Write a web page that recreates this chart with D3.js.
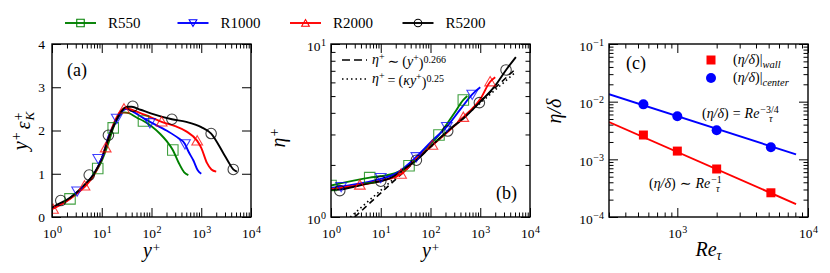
<!DOCTYPE html>
<html>
<head>
<meta charset="utf-8">
<script src="https://cdn.jsdelivr.net/npm/d3@7"></script>
<style>
  body { margin: 0; background: #fff; }
  svg, svg text { font-family: "Liberation Serif", "Times New Roman", "DejaVu Serif", serif; }
  .frame { fill: none; stroke: #000; stroke-width: 1.4; }
  .tick line { stroke: #000; stroke-width: 1; }
  .tick text { font-size: 13.5px; fill: #000; font-family: "Liberation Serif", "DejaVu Serif", serif; }
</style>
</head>
<body>
<div id="chart"></div>
<script>
// ---- data ----
var runs = ["R550", "R1000", "R2000", "R5200"];
var runColors = ["#008000", "#0000ff", "#ff0000", "#000000"];
var runMarkers = ["square", "triDown", "triUp", "circle"];

// (a) y+ eps+_K against y+
var epsR550 = [[1,0.2],[2,0.38],[3,0.53],[5,0.77],[8.3,1.12],[10,1.3],[14,1.75],[17,2.06],[22,2.32],[28,2.42],[35,2.4],[50,2.3],[69,2.22],[100,2.1],[150,1.92],[200,1.76],[268,1.55],[350,1.26],[450,1.04],[550,0.97]];
var epsR1000 = [[1,0.2],[2,0.38],[3,0.55],[5,0.78],[7,1.0],[10,1.35],[14,1.9],[20,2.25],[26,2.45],[32,2.5],[45,2.42],[70,2.28],[93,2.2],[200,2.0],[350,1.82],[470,1.69],[550,1.52],[700,1.3],[850,1.08],[1000,1.0]];
var epsR2000 = [[1,0.18],[2,0.37],[3,0.52],[5,0.75],[7,0.97],[10,1.35],[14,1.85],[18,2.2],[24,2.45],[30,2.52],[40,2.48],[60,2.4],[100,2.3],[160,2.2],[300,2.1],[500,1.98],[830,1.76],[1000,1.6],[1300,1.25],[1600,1.1],[2000,1.05]];
var epsR5200 = [[1,0.22],[1.5,0.33],[2,0.4],[3,0.55],[5,0.8],[7,1.0],[10,1.35],[14,1.85],[18,2.15],[24,2.42],[32,2.55],[40,2.55],[60,2.48],[100,2.39],[257,2.26],[500,2.2],[1000,2.08],[1580,1.93],[2800,1.47],[3500,1.28],[4400,1.1],[5200,1.05]];
var epsMarkR550 = [[2.3,0.42],[8.3,1.12],[17,2.06],[69,2.22],[268,1.55]];
var epsMarkR1000 = [[3.2,0.6],[8.5,1.35],[20,2.28],[93,2.18],[470,1.69]];
var epsMarkR2000 = [[1.05,0.18],[4.5,0.72],[12,1.6],[28,2.5],[160,2.2],[830,1.76]];
var epsMarkR5200 = [[1.5,0.38],[5.6,0.97],[13.6,1.89],[42,2.56],[257,2.26],[1580,1.93],[4400,1.1]];

// (b) eta+ against y+
var etaR550 = [[1,1.52],[6,1.69],[10,1.72],[20,1.8],[37,1.98],[70,2.4],[148,2.98],[300,3.98],[457,4.75],[550,5.0]];
var etaR1000 = [[1,1.47],[1.6,1.5],[10,1.66],[20,1.78],[52,2.23],[100,2.7],[213,3.33],[400,4.2],[690,5.12],[1000,5.62]];
var etaR2000 = [[1,1.45],[3.8,1.53],[10,1.62],[25.6,1.77],[50,2.15],[109,2.6],[250,3.2],[457,3.77],[1000,4.8],[1580,6.05],[2000,6.42]];
var etaR5200 = [[1,1.43],[1.5,1.44],[3,1.5],[6,1.57],[10,1.61],[15,1.67],[20,1.75],[30,1.9],[52,2.13],[100,2.55],[222,3.14],[500,3.8],[960,4.58],[2000,5.75],[3300,7.08],[5200,8.4]];
var etaMarkR550 = [[1.0,1.52],[6,1.69],[37,1.98],[148,2.98],[457,4.75]];
var etaMarkR1000 = [[1.6,1.5],[10,1.69],[52,2.23],[213,3.33],[690,5.12]];
var etaMarkR2000 = [[3.8,1.53],[25.6,1.77],[109,2.6],[457,3.77],[1580,6.05]];
var etaMarkR5200 = [[1.5,1.42],[10,1.61],[52,2.13],[222,3.14],[960,4.58],[3300,7.08]];
var etaFitDashed = [[3.0,1.0],[5200,7.2]];
var etaFitDotted = [[2.44,1.0],[5200,6.9]];

// (c) eta/delta against Re_tau
var reTau = [550, 1000, 2000, 5200];
var etaWall = [0.00264, 0.00139, 0.00068, 0.000263];
var etaCenter = [0.00898, 0.0056, 0.0032, 0.00162];
var fitWall = [[300,0.00443],[8100,0.000168]];
var fitCenter = [[300,0.0135],[8100,0.00122]];

var allEps = [epsR550, epsR1000, epsR2000, epsR5200];
var allEpsMark = [epsMarkR550, epsMarkR1000, epsMarkR2000, epsMarkR5200];
var allEta = [etaR550, etaR1000, etaR2000, etaR5200];
var allEtaMark = [etaMarkR550, etaMarkR1000, etaMarkR2000, etaMarkR5200];

// ---- layout ----
var width = 830, height = 273;
var plotTop = 44, plotBottom = 217;

var svg = d3.select("#chart").append("svg")
    .attr("width", width)
    .attr("height", height)
    .attr("font-family", "Liberation Serif, DejaVu Serif, serif");

function markerPath(type, size) {
    if (type == "square") return d3.symbol().type(d3.symbolSquare).size(size * size)();
    if (type == "circle") return d3.symbol().type(d3.symbolCircle).size(Math.PI * size * size / 4)();
    return d3.symbol().type(d3.symbolTriangle).size(size * size * 0.45)();
}

function drawMarkers(g, pts, type, color, size, filled, x, y) {
    g.selectAll(null)
        .data(pts)
        .enter()
        .append("path")
        .attr("d", markerPath(type, size))
        .attr("transform", function(d) {
            var rot = type == "triDown" ? " rotate(180)" : "";
            var dy = type == "triDown" ? -1 : (type == "triUp" ? 1 : 0);
            return "translate(" + x(d[0]) + "," + (y(d[1]) + dy) + ")" + rot;
        })
        .style("fill", filled ? color : "none")
        .style("stroke", color)
        .style("stroke-width", filled ? 0 : 1.1)
        .style("stroke-opacity", 0.75);
}

// power-of-ten labels with superscript exponent
function powLabel(sel) {
    sel.each(function(d) {
        var t = d3.select(this);
        var e = Math.round(Math.log10(d));
        t.text(null);
        t.append("tspan").text("10");
        t.append("tspan").attr("dx", 0.5).attr("dy", "-0.5em").style("font-size", "10px").text(e < 0 ? "\u2212" + (-e) : e);
    });
}

function isDecade(v) {
    return Math.abs(Math.log10(v) - Math.round(Math.log10(v))) < 1e-9;
}

// log axis ticks, inside, on both sides
function logTicksX(g, x) {
    var all = x.ticks();
    var major = all.filter(isDecade);
    var minor = all.filter(function(v) { return !isDecade(v); });
    g.append("g").attr("transform", "translate(0," + plotBottom + ")")
        .call(d3.axisBottom(x).tickValues(minor).tickSize(-4.5).tickFormat(""))
        .call(function(a) { a.select(".domain").remove(); });
    g.append("g").attr("transform", "translate(0," + plotTop + ")")
        .call(d3.axisTop(x).tickValues(minor).tickSize(-4.5).tickFormat(""))
        .call(function(a) { a.select(".domain").remove(); });
    var ax = g.append("g").attr("transform", "translate(0," + plotBottom + ")")
        .call(d3.axisBottom(x).tickValues(major).tickSize(-9).tickPadding(8))
        .call(function(a) { a.select(".domain").remove(); });
    ax.selectAll(".tick text").attr("dy", "0.95em").call(powLabel);
    g.append("g").attr("transform", "translate(0," + plotTop + ")")
        .call(d3.axisTop(x).tickValues(major).tickSize(-9).tickFormat(""))
        .call(function(a) { a.select(".domain").remove(); });
}

function logTicksY(g, y, left, right) {
    var all = y.ticks();
    var major = all.filter(isDecade);
    var minor = all.filter(function(v) { return !isDecade(v); });
    g.append("g").attr("transform", "translate(" + left + ",0)")
        .call(d3.axisLeft(y).tickValues(minor).tickSize(-4.5).tickFormat(""))
        .call(function(a) { a.select(".domain").remove(); });
    g.append("g").attr("transform", "translate(" + right + ",0)")
        .call(d3.axisRight(y).tickValues(minor).tickSize(-4.5).tickFormat(""))
        .call(function(a) { a.select(".domain").remove(); });
    var ay = g.append("g").attr("transform", "translate(" + left + ",0)")
        .call(d3.axisLeft(y).tickValues(major).tickSize(-9).tickPadding(5))
        .call(function(a) { a.select(".domain").remove(); });
    ay.selectAll(".tick text").attr("dy", "0.45em").call(powLabel);
    g.append("g").attr("transform", "translate(" + right + ",0)")
        .call(d3.axisRight(y).tickValues(major).tickSize(-9).tickFormat(""))
        .call(function(a) { a.select(".domain").remove(); });
}

function frame(g, left, right) {
    g.append("rect").attr("class", "frame")
        .attr("x", left).attr("y", plotTop)
        .attr("width", right - left).attr("height", plotBottom - plotTop);
}

function clip(id, left, right) {
    svg.append("clipPath").attr("id", id).append("rect")
        .attr("x", left).attr("y", plotTop).attr("width", right - left).attr("height", plotBottom - plotTop);
}

function xLabelYplus(cx) {
    var t = svg.append("text").attr("x", cx).attr("y", 257).attr("text-anchor", "middle")
        .style("font-size", "20px").style("font-style", "italic");
    t.append("tspan").text("y");
    t.append("tspan").attr("dx", 1).attr("dy", "-0.4em").style("font-size", "13px").style("font-style", "normal").text("+");
}

// ---------- panel (a) ----------
var aL = 52, aR = 251;
var xa = d3.scaleLog().domain([1, 1e4]).range([aL, aR]);
var ya = d3.scaleLinear().domain([0, 4]).range([plotBottom, plotTop]);
var ga = svg.append("g");
clip("clipA", aL, aR);

logTicksX(ga, xa);
ga.append("g").attr("transform", "translate(" + aL + ",0)")
    .call(d3.axisLeft(ya).ticks(4).tickSize(-9).tickPadding(7))
    .call(function(a) { a.select(".domain").remove(); });
ga.append("g").attr("transform", "translate(" + aR + ",0)")
    .call(d3.axisRight(ya).ticks(4).tickSize(-9).tickFormat(""))
    .call(function(a) { a.select(".domain").remove(); });

var lineA = d3.line().x(function(d) { return xa(d[0]); }).y(function(d) { return ya(d[1]); })
    .curve(d3.curveMonotoneX);
var plotA = ga.append("g").attr("clip-path", "url(#clipA)");
for (var i = 0; i < runs.length; ++i) {
    plotA.append("path").datum(allEps[i]).attr("d", lineA)
        .style("fill", "none").style("stroke", runColors[i]).style("stroke-width", 1.9);
}
for (var i = 0; i < runs.length; ++i) {
    drawMarkers(plotA, allEpsMark[i], runMarkers[i], runColors[i], 10.5, false, xa, ya);
}
frame(ga, aL, aR);
ga.append("text").attr("x", 67).attr("y", 76).style("font-size", "18px").text("(a)");
xLabelYplus((aL + aR) / 2);
var la = svg.append("text").attr("transform", "translate(27,131) rotate(-90)")
    .attr("text-anchor", "middle").style("font-size", "20px").style("font-style", "italic");
la.append("tspan").text("y");
la.append("tspan").attr("dx", 1).attr("dy", "-0.45em").style("font-size", "14px").style("font-style", "normal").text("+");
la.append("tspan").attr("dx", 3).attr("dy", "0.45em").text("\u03b5");
la.append("tspan").attr("dx", 1).attr("dy", "-0.45em").style("font-size", "14px").style("font-style", "normal").text("+");
la.append("tspan").attr("dx", "-8").attr("dy", "0.85em").style("font-size", "13px").text("K");

// ---------- panel (b) ----------
var bL = 331, bR = 530;
var xb = d3.scaleLog().domain([1, 1e4]).range([bL, bR]);
var yb = d3.scaleLog().domain([1, 10]).range([plotBottom, plotTop]);
var gb = svg.append("g");
clip("clipB", bL, bR);
logTicksX(gb, xb);
logTicksY(gb, yb, bL, bR);

var lineB = d3.line().x(function(d) { return xb(d[0]); }).y(function(d) { return yb(d[1]); })
    .curve(d3.curveMonotoneX);
var plotB = gb.append("g").attr("clip-path", "url(#clipB)");
plotB.append("path").datum(etaFitDashed).attr("d", lineB)
    .style("fill", "none").style("stroke", "#000").style("stroke-width", 1.6).style("stroke-dasharray", "6,4");
plotB.append("path").datum(etaFitDotted).attr("d", lineB)
    .style("fill", "none").style("stroke", "#000").style("stroke-width", 1.6).style("stroke-dasharray", "1.5,3");
for (var i = 0; i < runs.length; ++i) {
    plotB.append("path").datum(allEta[i]).attr("d", lineB)
        .style("fill", "none").style("stroke", runColors[i]).style("stroke-width", 1.9);
}
for (var i = 0; i < runs.length; ++i) {
    drawMarkers(plotB, allEtaMark[i], runMarkers[i], runColors[i], 10.5, false, xb, yb);
}
frame(gb, bL, bR);
gb.append("text").attr("x", 496).attr("y", 199).style("font-size", "18px").text("(b)");

// fit legend
gb.append("line").attr("x1", 342).attr("x2", 367).attr("y1", 60).attr("y2", 60)
    .style("stroke", "#000").style("stroke-width", 1.6).style("stroke-dasharray", "8,4");
gb.append("line").attr("x1", 342).attr("x2", 367).attr("y1", 79).attr("y2", 79)
    .style("stroke", "#000").style("stroke-width", 1.6).style("stroke-dasharray", "1.5,3");
var t1 = gb.append("text").attr("x", 372).attr("y", 64).style("font-size", "14px");
t1.append("tspan").style("font-style", "italic").text("\u03b7");
t1.append("tspan").attr("dy", "-0.45em").style("font-size", "10px").text("+");
t1.append("tspan").attr("dx", 3).attr("dy", "0.45em").text("\u223c");
t1.append("tspan").attr("dx", 3).text("(");
t1.append("tspan").style("font-style", "italic").text("y");
t1.append("tspan").attr("dy", "-0.45em").style("font-size", "10px").text("+");
t1.append("tspan").attr("dy", "0.45em").text(")");
t1.append("tspan").attr("dy", "-0.5em").style("font-size", "10px").text("0.266");
var t2 = gb.append("text").attr("x", 372).attr("y", 83).style("font-size", "14px");
t2.append("tspan").style("font-style", "italic").text("\u03b7");
t2.append("tspan").attr("dy", "-0.45em").style("font-size", "10px").text("+");
t2.append("tspan").attr("dx", 3).attr("dy", "0.45em").text("=");
t2.append("tspan").attr("dx", 3).text("(");
t2.append("tspan").style("font-style", "italic").text("\u03bay");
t2.append("tspan").attr("dy", "-0.45em").style("font-size", "10px").text("+");
t2.append("tspan").attr("dy", "0.45em").text(")");
t2.append("tspan").attr("dy", "-0.5em").style("font-size", "10px").text("0.25");

xLabelYplus((bL + bR) / 2);
var lb = svg.append("text").attr("transform", "translate(285,138) rotate(-90)")
    .attr("text-anchor", "middle").style("font-size", "20px").style("font-style", "italic");
lb.append("tspan").text("\u03b7");
lb.append("tspan").attr("dx", 1).attr("dy", "-0.45em").style("font-size", "14px").style("font-style", "normal").text("+");

// ---------- panel (c) ----------
var cL = 609, cR = 808;
var xc = d3.scaleLog().domain([300, 1e4]).range([cL, cR]);
var yc = d3.scaleLog().domain([1e-4, 1e-1]).range([plotBottom, plotTop]);
var gc = svg.append("g");
clip("clipC", cL, cR);
logTicksX(gc, xc);
logTicksY(gc, yc, cL, cR);

var lineC = d3.line().x(function(d) { return xc(d[0]); }).y(function(d) { return yc(d[1]); });
var plotC = gc.append("g").attr("clip-path", "url(#clipC)");
plotC.append("path").datum(fitCenter).attr("d", lineC)
    .style("fill", "none").style("stroke", "#0000ff").style("stroke-width", 1.9);
plotC.append("path").datum(fitWall).attr("d", lineC)
    .style("fill", "none").style("stroke", "#ff0000").style("stroke-width", 1.9);
var wallPts = reTau.map(function(r, k) { return [r, etaWall[k]]; });
var centerPts = reTau.map(function(r, k) { return [r, etaCenter[k]]; });
drawMarkers(plotC, wallPts, "square", "#ff0000", 9, true, xc, yc);
drawMarkers(plotC, centerPts, "circle", "#0000ff", 10, true, xc, yc);
frame(gc, cL, cR);
gc.append("text").attr("x", 626).attr("y", 69).style("font-size", "18px").text("(c)");

// legend
gc.append("path").attr("d", markerPath("square", 9)).attr("transform", "translate(711,60)").style("fill", "#ff0000");
gc.append("path").attr("d", markerPath("circle", 10)).attr("transform", "translate(711,78)").style("fill", "#0000ff");
var lw = gc.append("text").attr("x", 733).attr("y", 64).style("font-size", "14px");
lw.append("tspan").text("(");
lw.append("tspan").style("font-style", "italic").text("\u03b7/\u03b4");
lw.append("tspan").text(")|");
lw.append("tspan").attr("dy", "0.35em").style("font-size", "10.5px").style("font-style", "italic").text("wall");
var lcn = gc.append("text").attr("x", 733).attr("y", 82).style("font-size", "14px");
lcn.append("tspan").text("(");
lcn.append("tspan").style("font-style", "italic").text("\u03b7/\u03b4");
lcn.append("tspan").text(")|");
lcn.append("tspan").attr("dy", "0.35em").style("font-size", "10.5px").style("font-style", "italic").text("center");

function reLabel(x, y, rel, exp) {
    var t = gc.append("text").attr("x", x).attr("y", y).style("font-size", "14px");
    t.append("tspan").text("(");
    t.append("tspan").style("font-style", "italic").text("\u03b7/\u03b4");
    t.append("tspan").text(")");
    t.append("tspan").attr("dx", 4).text(rel);
    t.append("tspan").attr("dx", 4).style("font-style", "italic").text("Re");
    t.append("tspan").attr("dx", 1).attr("dy", "-0.5em").style("font-size", "10px").text(exp);
}
reLabel(702, 118, "=", "\u22123/4");
reLabel(649, 188, "\u223c", "\u22121");
// tau subscripts under the exponents
gc.append("text").attr("x", 769).attr("y", 122).style("font-size", "10px").style("font-style", "italic").text("\u03c4");
gc.append("text").attr("x", 716).attr("y", 192).style("font-size", "10px").style("font-style", "italic").text("\u03c4");

var xl = svg.append("text").attr("x", (cL + cR) / 2).attr("y", 256).attr("text-anchor", "middle")
    .style("font-size", "20px").style("font-style", "italic");
xl.append("tspan").text("Re");
xl.append("tspan").attr("dy", "0.3em").style("font-size", "14px").text("\u03c4");
svg.append("text").attr("transform", "translate(561,111) rotate(-90)")
    .attr("text-anchor", "middle").style("font-size", "20px").style("font-style", "italic")
    .text("\u03b7/\u03b4");

// ---------- top legend ----------
var legend = svg.append("g").selectAll("g")
    .data(runs)
    .enter()
    .append("g")
    .attr("transform", function(d, k) { return "translate(" + (65 + k * 112.5) + ",23)"; });
legend.append("line").attr("x1", 0).attr("x2", 31).attr("y1", 0).attr("y2", 0)
    .style("stroke", function(d, k) { return runColors[k]; }).style("stroke-width", 1.9);
legend.append("path")
    .attr("d", function(d, k) { return markerPath(runMarkers[k], 7.5); })
    .attr("transform", function(d, k) {
        return "translate(15.5," + (runMarkers[k] == "triDown" ? -1 : (runMarkers[k] == "triUp" ? 1 : 0)) + ")" +
            (runMarkers[k] == "triDown" ? " rotate(180)" : "");
    })
    .style("fill", "none")
    .style("stroke", function(d, k) { return runColors[k]; })
    .style("stroke-width", 1.1);
legend.append("text").attr("x", 43).attr("y", 5).style("font-size", "15px")
    .text(function(d) { return d; });
</script>
</body>
</html>
